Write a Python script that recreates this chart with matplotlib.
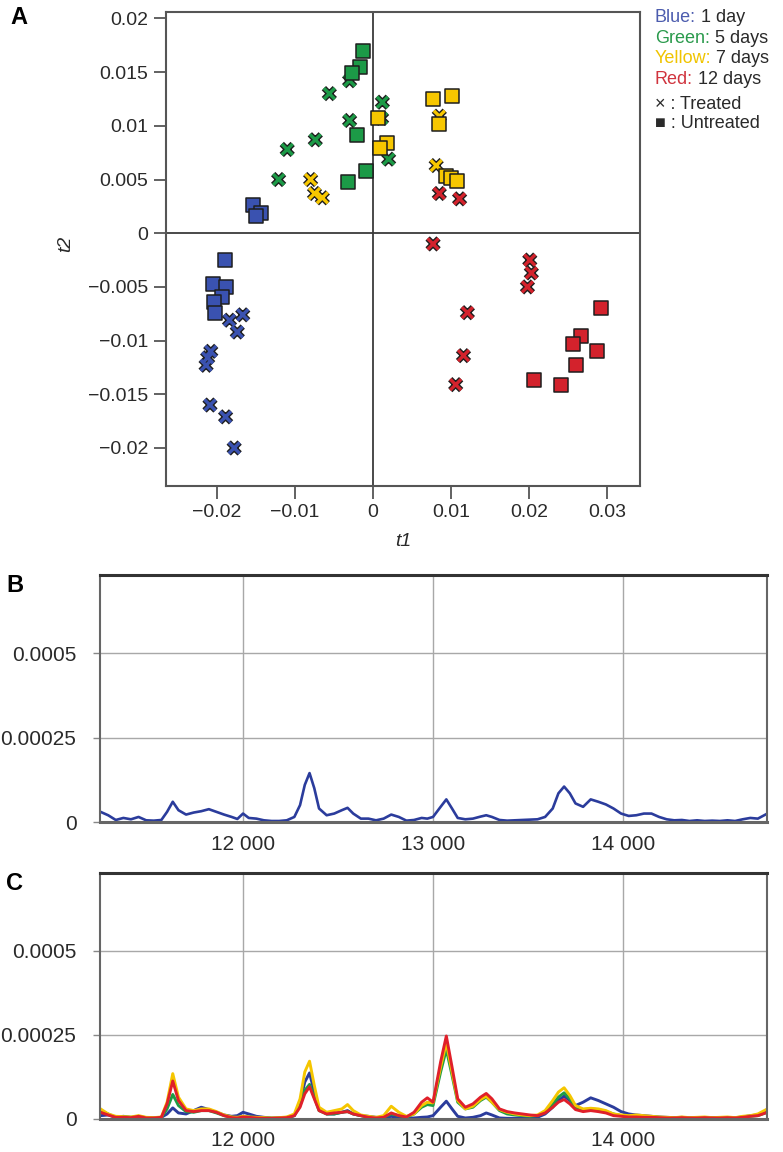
import matplotlib
matplotlib.use("Agg")
import matplotlib.pyplot as plt
import matplotlib.patheffects as pe
import numpy as np

plt.rcParams["font.family"] = ["Liberation Sans", "DejaVu Sans"]

# ---- panel A: score plot (t1, t2) ----
blue_sq_t1 = [-0.0154, -0.0143, -0.0150, -0.0190, -0.0205, -0.0189, -0.0193, -0.0204, -0.0203]
blue_sq_t2 = [0.0026, 0.0019, 0.0016, -0.0025, -0.0047, -0.0050, -0.0059, -0.0064, -0.0074]
blue_x_t1 = [-0.0167, -0.0184, -0.0174, -0.0208, -0.0212, -0.0214, -0.0209, -0.0189, -0.0178]
blue_x_t2 = [-0.0076, -0.0081, -0.0092, -0.0110, -0.0116, -0.0123, -0.0160, -0.0171, -0.0200]

green_sq_t1 = [-0.0013, -0.0017, -0.0027, -0.0021, -0.0009, -0.0032]
green_sq_t2 = [0.0170, 0.0155, 0.0149, 0.0091, 0.0058, 0.0048]
green_x_t1 = [-0.0030, -0.0056, -0.0030, -0.0074, -0.0110, -0.0121, 0.0012, 0.0020, 0.0011]
green_x_t2 = [0.0142, 0.0130, 0.0105, 0.0087, 0.0078, 0.0050, 0.0122, 0.0069, 0.0107]

yellow_sq_t1 = [0.0006, 0.0018, 0.0009, 0.0077, 0.0101, 0.0085, 0.0094, 0.0100, 0.0108]
yellow_sq_t2 = [0.0107, 0.0084, 0.0079, 0.0125, 0.0128, 0.0102, 0.0053, 0.0051, 0.0049]
yellow_x_t1 = [-0.0080, -0.0075, -0.0065, 0.0085, 0.0081]
yellow_x_t2 = [0.0050, 0.0037, 0.0033, 0.0109, 0.0063]

red_sq_t1 = [0.0292, 0.0267, 0.0256, 0.0287, 0.0260, 0.0206, 0.0241]
red_sq_t2 = [-0.0070, -0.0096, -0.0103, -0.0110, -0.0123, -0.0137, -0.0141]
red_x_t1 = [0.0085, 0.0111, 0.0077, 0.0201, 0.0203, 0.0198, 0.0121, 0.0116, 0.0106]
red_x_t2 = [0.0037, 0.0032, -0.0010, -0.0025, -0.0037, -0.0050, -0.0074, -0.0114, -0.0141]

a_xticks = [-0.02, -0.01, 0, 0.01, 0.02, 0.03]
a_xlabels = ["\u22120.02", "\u22120.01", "0", "0.01", "0.02", "0.03"]
a_yticks = [0.02, 0.015, 0.01, 0.005, 0, -0.005, -0.01, -0.015, -0.02]
a_ylabels = ["0.02", "0.015", "0.01", "0.005", "0", "\u22120.005", "\u22120.01",
             "\u22120.015", "\u22120.02"]

# ---- panels B and C: spectra (intensity in units of 1e-5) ----
mz = [11250, 11290, 11330, 11370, 11410, 11450, 11490, 11530, 11570, 11600,
      11630, 11660, 11700, 11740, 11780, 11820, 11860, 11900, 11940, 11970,
      12000, 12030, 12070, 12110, 12150, 12190, 12230, 12270, 12300, 12325,
      12350, 12375, 12400, 12440, 12480, 12520, 12550, 12580, 12620, 12660,
      12700, 12740, 12780, 12820, 12860, 12900, 12940, 12970, 13000, 13040,
      13070, 13100, 13130, 13170, 13210, 13250, 13280, 13310, 13350, 13390,
      13430, 13470, 13510, 13550, 13590, 13630, 13660, 13690, 13720, 13750,
      13790, 13830, 13870, 13910, 13950, 13990, 14030, 14070, 14110, 14150,
      14190, 14230, 14270, 14310, 14350, 14390, 14430, 14470, 14510, 14550,
      14590, 14630, 14670, 14710, 14760]

spec_b = [3.0, 2.0, 0.6, 1.2, 0.8, 1.5, 0.5, 0.4, 0.6, 3.0,
          6.0, 3.5, 2.2, 2.8, 3.2, 3.8, 3.0, 2.2, 1.5, 0.9,
          2.5, 1.2, 1.0, 0.5, 0.3, 0.3, 0.5, 1.5, 5.0, 11.0,
          14.5, 10.0, 4.0, 2.0, 2.5, 3.5, 4.2, 2.5, 1.0, 1.0,
          0.5, 1.0, 2.2, 1.5, 0.4, 0.6, 1.2, 1.0, 1.5, 4.5,
          6.7, 4.0, 1.2, 0.8, 1.0, 1.6, 2.0, 1.5, 0.6, 0.4,
          0.5, 0.6, 0.7, 0.8, 1.5, 4.0, 8.5, 10.5, 8.5, 5.5,
          4.5, 6.7, 6.0, 5.2, 4.0, 2.5, 1.8, 2.0, 2.5, 2.5,
          1.5, 0.8, 0.5, 0.6, 0.3, 0.5, 0.3, 0.4, 0.3, 0.5,
          0.3, 0.8, 1.2, 1.0, 2.5]

spec_c_blue = [1.0, 1.2, 0.5, 0.8, 0.5, 0.4, 0.3, 0.3, 0.5, 1.5,
               3.3, 1.8, 1.5, 2.5, 3.5, 2.8, 2.0, 1.2, 0.8, 1.0,
               2.0, 1.5, 0.8, 0.5, 0.3, 0.3, 0.3, 1.0, 5.0, 11.0,
               13.7, 8.0, 3.0, 1.5, 1.5, 2.0, 2.5, 1.5, 1.0, 0.8,
               0.5, 0.3, 0.8, 0.3, 0.2, 0.3, 0.5, 0.6, 1.0, 3.5,
               5.3, 3.0, 0.8, 0.3, 0.5, 1.0, 1.8, 1.2, 0.3, 0.2,
               0.2, 0.3, 0.4, 0.5, 1.5, 3.5, 5.5, 6.8, 5.5, 4.0,
               5.0, 6.3, 5.5, 4.5, 3.5, 2.2, 1.5, 1.2, 1.0, 0.8,
               0.6, 0.5, 0.4, 0.5, 0.3, 0.4, 0.3, 0.4, 0.3, 0.4,
               0.3, 0.6, 1.0, 1.2, 2.5]

spec_c_green = [2.5, 1.5, 0.5, 0.6, 0.5, 0.8, 0.4, 0.3, 0.5, 3.0,
                7.3, 4.0, 2.2, 2.0, 2.5, 2.5, 1.8, 1.0, 0.5, 0.4,
                0.8, 0.6, 0.4, 0.3, 0.2, 0.3, 0.5, 1.0, 4.0, 8.5,
                10.3, 6.5, 2.5, 1.5, 1.5, 2.0, 2.2, 1.5, 1.0, 0.5,
                0.3, 0.5, 1.5, 1.0, 0.5, 1.5, 3.5, 4.3, 4.0, 14.0,
                20.7, 13.0, 5.0, 3.0, 3.5, 5.5, 6.5, 5.0, 2.5, 1.5,
                1.2, 1.0, 0.8, 1.0, 2.0, 4.5, 6.5, 7.8, 6.0, 3.5,
                2.8, 3.0, 2.8, 2.2, 1.5, 1.0, 0.8, 0.8, 0.7, 0.6,
                0.5, 0.4, 0.3, 0.4, 0.3, 0.3, 0.4, 0.3, 0.4, 0.3,
                0.4, 0.6, 0.8, 1.0, 2.0]

spec_c_yellow = [3.0, 1.5, 0.8, 0.7, 0.6, 1.0, 0.5, 0.4, 0.6, 5.0,
                 13.5, 6.5, 3.0, 2.5, 3.0, 3.0, 2.2, 1.2, 0.6, 0.5,
                 0.8, 0.6, 0.5, 0.4, 0.3, 0.4, 0.6, 1.5, 6.0, 14.0,
                 17.2, 10.0, 3.5, 2.0, 2.5, 3.0, 4.3, 2.5, 1.2, 0.8,
                 0.5, 1.0, 3.8, 2.0, 0.8, 1.5, 4.0, 5.0, 4.8, 15.5,
                 22.7, 14.0, 5.5, 3.0, 3.8, 5.8, 6.8, 5.0, 2.8, 2.0,
                 1.5, 1.2, 1.0, 1.2, 2.5, 5.5, 8.0, 9.3, 7.0, 4.0,
                 3.0, 3.2, 3.0, 2.5, 1.5, 1.2, 1.0, 1.2, 1.0, 0.8,
                 0.6, 0.5, 0.4, 0.6, 0.4, 0.5, 0.6, 0.4, 0.5, 0.6,
                 0.4, 0.8, 1.0, 1.5, 3.0]

spec_c_red = [2.0, 1.2, 0.5, 0.5, 0.4, 0.8, 0.3, 0.3, 0.5, 4.5,
              11.3, 5.5, 2.5, 2.2, 2.5, 2.5, 2.0, 1.0, 0.4, 0.3,
              0.6, 0.5, 0.3, 0.2, 0.2, 0.3, 0.4, 1.0, 3.5, 7.5,
              9.6, 6.0, 2.5, 1.5, 1.8, 2.0, 2.2, 1.5, 1.0, 0.5,
              0.3, 0.5, 1.8, 1.0, 0.6, 2.0, 5.0, 6.3, 5.0, 17.0,
              24.7, 15.5, 6.0, 3.5, 4.5, 6.5, 7.6, 6.0, 3.0, 2.2,
              1.8, 1.5, 1.2, 1.0, 1.8, 3.5, 5.0, 5.8, 4.5, 2.8,
              2.2, 2.5, 2.2, 1.8, 1.0, 0.8, 0.6, 0.6, 0.5, 0.5,
              0.4, 0.3, 0.3, 0.4, 0.3, 0.3, 0.4, 0.3, 0.3, 0.4,
              0.3, 0.5, 0.8, 1.0, 2.0]

bc_xticks = [12000, 13000, 14000]
bc_xlabels = ["12 000", "13 000", "14 000"]
bc_yticks = [0, 0.00025, 0.0005]
bc_ylabels = ["0", "0.00025", "0.0005"]

BLUE = "#3a52b0"
GREEN = "#1c9a47"
YELLOW = "#f7c700"
RED = "#d3222c"
EDGE = "#1e1e1e"
TXT = "#2a2a2a"

W, H = 783, 1152
fig = plt.figure(figsize=(W / 100, H / 100), dpi=100)


def box(left, top, right, bottom):
    return [left / W, 1 - bottom / H, (right - left) / W, (bottom - top) / H]


# ---------------- panel A ----------------
axA = fig.add_axes(box(166, 12, 640, 486))
axA.set_xlim(-0.02654, 0.03423)
axA.set_ylim(-0.02354, 0.0206)
axA.axhline(0, color="#3a3a3a", lw=1.3, zorder=1)
axA.axvline(0, color="#3a3a3a", lw=1.3, zorder=1)

outline = [pe.Stroke(linewidth=4.4, foreground=EDGE), pe.Normal()]
groups = [
    (blue_x_t1, blue_x_t2, blue_sq_t1, blue_sq_t2, BLUE),
    (green_x_t1, green_x_t2, green_sq_t1, green_sq_t2, GREEN),
    (yellow_x_t1, yellow_x_t2, yellow_sq_t1, yellow_sq_t2, YELLOW),
    (red_x_t1, red_x_t2, red_sq_t1, red_sq_t2, RED),
]
z = 3
for xt1, xt2, st1, st2, col in groups:
    axA.scatter(xt1, xt2, marker="x", s=62, linewidths=2.4, color=col,
                path_effects=outline, zorder=z)
    axA.scatter(st1, st2, marker="s", s=96, color=col, edgecolors=EDGE,
                linewidths=1.1, zorder=z + 1)
    z += 2

axA.set_xticks(a_xticks)
axA.set_xticklabels(a_xlabels)
axA.set_yticks(a_yticks)
axA.set_yticklabels(a_ylabels)
axA.tick_params(direction="out", length=9, width=1.3, color="#555555",
                labelsize=14, labelcolor=TXT, pad=4)
for sp in axA.spines.values():
    sp.set_color("#555555")
    sp.set_linewidth(1.5)

fig.text(403 / W, 1 - 541 / H, "t1", style="italic", fontsize=14, color=TXT,
         ha="center", va="center")
fig.text(66 / W, 1 - 244 / H, "t2", style="italic", fontsize=14, color=TXT,
         ha="center", va="center", rotation=90)

# legend text at the right of panel A
legend_rows = [("Blue:", "1 day", "#4c5cae", 22),
               ("Green:", "5 days", "#2a9a4c", 43),
               ("Yellow:", "7 days", "#f0c400", 63),
               ("Red:", "12 days", "#d0343e", 84)]
renderer = fig.canvas.get_renderer()
for head, tail, col, ypx in legend_rows:
    t = fig.text(655 / W, 1 - ypx / H, head, color=col, fontsize=13,
                 ha="left", va="baseline")
    right_px = t.get_window_extent(renderer).x1
    fig.text((right_px + 5) / W, 1 - ypx / H, tail, color=TXT, fontsize=13,
             ha="left", va="baseline")
fig.text(655 / W, 1 - 109 / H, "\u00d7 : Treated", fontsize=13, color=TXT,
         ha="left", va="baseline")
fig.text(655 / W, 1 - 128 / H, "\u25a0 : Untreated", fontsize=13, color=TXT,
         ha="left", va="baseline")

# panel letters
fig.text(10 / W, 1 - 18 / H, "A", fontsize=17, fontweight="bold", ha="left",
         va="center")
fig.text(6 / W, 1 - 585 / H, "B", fontsize=17, fontweight="bold", ha="left",
         va="center")
fig.text(6 / W, 1 - 883 / H, "C", fontsize=17, fontweight="bold", ha="left",
         va="center")

# ---------------- panels B and C ----------------
mz_arr = np.array(mz)
scale = 1e-5


def style_spectrum(ax):
    ax.set_xlim(11247, 14758)
    ax.set_ylim(0, 0.000732)
    ax.set_xticks(bc_xticks)
    ax.set_xticklabels(bc_xlabels)
    ax.set_yticks(bc_yticks)
    ax.set_yticklabels(bc_ylabels)
    ax.grid(True, color="#a8a8a8", lw=1.0)
    ax.set_axisbelow(True)
    ax.tick_params(axis="x", length=0, pad=9, labelsize=15, labelcolor=TXT)
    ax.tick_params(axis="y", length=5, width=1, color="#888888", pad=12,
                   labelsize=15, labelcolor=TXT)
    for sp in ax.spines.values():
        sp.set_color("#666666")
        sp.set_linewidth(1.5)
    ax.spines["top"].set_color("#333333")
    ax.spines["top"].set_linewidth(2.2)
    ax.spines["bottom"].set_linewidth(2.2)


axB = fig.add_axes(box(100, 575, 767, 822))
axB.plot(mz_arr, np.array(spec_b) * scale, color="#2b3c9c", lw=1.9)
style_spectrum(axB)

axC = fig.add_axes(box(100, 873, 767, 1119))
axC.plot(mz_arr, np.array(spec_c_blue) * scale, color="#2b3c9c", lw=2.1)
axC.plot(mz_arr, np.array(spec_c_green) * scale, color="#1e9c45", lw=2.1)
axC.plot(mz_arr, np.array(spec_c_yellow) * scale, color="#f5c600", lw=2.1)
axC.plot(mz_arr, np.array(spec_c_red) * scale, color="#e0202a", lw=2.1)
style_spectrum(axC)

fig.savefig("out.png", dpi=100)
